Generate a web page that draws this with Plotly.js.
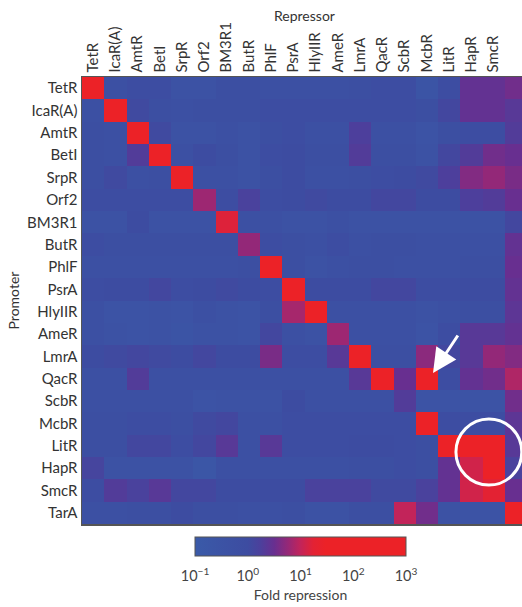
<!DOCTYPE html>
<html>
<head>
<meta charset="utf-8">
<script src="https://cdn.plot.ly/plotly-3.0.1.min.js"></script>
<style>html,body{margin:0;padding:0;background:#fff;}#chart{width:522px;height:607px;}</style>
</head>
<body>
<div id="chart"></div>
<script>
// Repressors (columns) and promoters (rows)
const repressors = ["TetR","IcaR(A)","AmtR","BetI","SrpR","Orf2","BM3R1","ButR","PhlF","PsrA","HlyIIR","AmeR","LmrA","QacR","ScbR","McbR","LitR","HapR","SmcR","TarA"];
const promoters  = ["TetR","IcaR(A)","AmtR","BetI","SrpR","Orf2","BM3R1","ButR","PhlF","PsrA","HlyIIR","AmeR","LmrA","QacR","ScbR","McbR","LitR","HapR","SmcR","TarA"];

// log10(fold repression), rows = promoters, columns = repressors
const log10Fold = [
  [ 2.5,-0.3,-0.1,-0.1,-0.4,-0.4,-0.2,-0.2,-0.3,-0.3,-0.3,-0.3,-0.2,-0.1,-0.1,-0.6,-0.1, 0.45,0.45,0.55],
  [-0.3, 2.5, 0.05,-0.2,-0.3,-0.2,-0.2,-0.2,-0.1,-0.1,-0.1,-0.1,-0.1,-0.1,-0.1,-0.2, 0.1, 0.45,0.45,0.35],
  [-0.2,-0.3, 2.5, 0.05,-0.4,-0.4,-0.3,-0.4,-0.2,-0.1,-0.3,-0.3, 0.25,-0.3,-0.3,-0.5,-0.2,-0.1,-0.1, 0.3],
  [-0.2,-0.3, 0.3, 2.5,-0.3, 0.0,-0.2,-0.4,-0.1, 0.0,-0.2,-0.2, 0.3,-0.2,-0.2,-0.4, 0.1, 0.3, 0.55, 0.5],
  [-0.2, 0.05,-0.3,-0.2, 2.5,-0.3,-0.3,-0.4,-0.2, 0.0,-0.3,-0.3,-0.2,-0.1, 0.0, 0.05, 0.25,0.65,0.75,0.6],
  [-0.1,-0.1,-0.1,-0.1,-0.1, 0.8,-0.1, 0.2,-0.1, 0.0, 0.05, 0.0, 0.0, 0.1, 0.1, 0.0, 0.0, 0.25,0.3, 0.5],
  [-0.4,-0.4, 0.0,-0.4,-0.4,-0.4, 1.2,-0.3,-0.3,-0.4,-0.4,-0.3,-0.4,-0.4,-0.4,-0.4,-0.4,-0.4,-0.4, 0.1],
  [-0.1,-0.2,-0.2,-0.2,-0.2,-0.2,-0.2, 0.75,-0.1,-0.2,-0.3,-0.1,-0.3,-0.2,-0.2,-0.3,-0.3,-0.3,-0.3, 0.45],
  [-0.3,-0.3,-0.3,-0.3,-0.3,-0.3,-0.3,-0.2, 2.5,-0.2,-0.4,-0.3,-0.2,-0.2,-0.3,-0.3,-0.3,-0.2,-0.2, 0.5],
  [-0.1, 0.0, 0.0, 0.1,-0.1, 0.0, 0.05, 0.0,-0.1, 2.5, 0.0, 0.0, 0.0, 0.1, 0.1,-0.1,-0.1, 0.0, 0.0, 0.45],
  [-0.3,-0.5,-0.5,-0.4,-0.5,-0.3,-0.4,-0.5,-0.2, 0.85, 2.5,-0.3,-0.3,-0.3,-0.3,-0.4,-0.3,-0.2,-0.2, 0.4],
  [-0.3,-0.4,-0.5,-0.4,-0.6,-0.4,-0.4,-0.5, 0.1,-0.3,-0.4, 0.8,-0.3,-0.3,-0.3,-0.5,-0.1, 0.35,0.35,0.45],
  [ 0.0, 0.05, 0.1, 0.05, 0.0, 0.1, 0.0, 0.0, 0.6,-0.1,-0.1, 0.35, 2.5,-0.2,-0.2, 0.7, 0.1, 0.35,0.75,0.65],
  [-0.3,-0.3, 0.3,-0.3,-0.3,-0.3,-0.3,-0.3,-0.3,-0.3,-0.3,-0.3, 0.35, 2.5, 0.5, 2.5,-0.1, 0.45,0.55,0.9],
  [-0.3,-0.3,-0.3,-0.3,-0.3,-0.5,-0.4,-0.4,-0.4, 0.0,-0.3,-0.3,-0.3,-0.3, 0.3,-0.5,-0.5,-0.5,-0.5, 0.55],
  [-0.2,-0.2,-0.1,-0.1,-0.2, 0.05, 0.1,-0.3,-0.3,-0.1,-0.1,-0.1,-0.1,-0.1,-0.1, 2.5,-0.1,-0.1,-0.1, 0.4],
  [-0.2,-0.2, 0.1, 0.1,-0.1, 0.1, 0.35,-0.3, 0.35,-0.1,-0.1,-0.1, 0.0, 0.0,-0.1,-0.2, 2.5, 2.5, 2.5, 0.35],
  [ 0.15,-0.4,-0.4,-0.4,-0.4,-0.7,-0.3,-0.3,-0.3,-0.3,-0.3,-0.3,-0.2,-0.2,-0.1,-0.2, 0.45, 1.1, 1.8, 0.2],
  [-0.1, 0.3, 0.2, 0.35, 0.1, 0.1, 0.0, 0.0, 0.0, 0.0, 0.2, 0.2, 0.2, 0.05, 0.05, 0.2, 0.45, 1.1, 1.25,0.5],
  [-0.3,-0.3,-0.2,-0.2, 0.0,-0.2,-0.2,-0.3,-0.3,-0.2,-0.4,-0.4,-0.2,-0.2, 1.0, 0.55,-0.4,-0.5,-0.5, 2.5]
];

// Colorbar ticks (log10 units) and labels
const cbTickVals = [-1, 0, 1, 2, 3];
const cbTickText = ["10<sup>\u22121</sup>", "10<sup>0</sup>", "10<sup>1</sup>", "10<sup>2</sup>", "10<sup>3</sup>"];

const colIdx = repressors.map((_, i) => i);
const rowIdx = promoters.map((_, i) => i);

const FONT = "Lato, 'Open Sans', sans-serif";

const colorscale = [
  [0.0,   "#3a5aa8"],
  [0.25,  "#3d4ca1"],
  [0.31,  "#4c409c"],
  [0.375, "#682f90"],
  [0.44,  "#952877"],
  [0.5,   "#c2245a"],
  [0.56,  "#e32234"],
  [0.62,  "#ec2227"],
  [1.0,   "#ec2227"]
];

const trace = {
  type: "heatmap",
  x: colIdx,
  y: rowIdx,
  z: log10Fold,
  zmin: -1,
  zmax: 3,
  colorscale: colorscale,
  hoverinfo: "skip",
  colorbar: {
    orientation: "h",
    x: 0.4966, xanchor: "center",
    y: -0.029, yanchor: "top",
    len: 0.4795, lenmode: "fraction",
    thickness: 19, thicknessmode: "pixels",
    xpad: 0, ypad: 0,
    outlinecolor: "#555", outlinewidth: 1,
    tickvals: cbTickVals, ticktext: cbTickText,
    ticks: "outside", ticklen: 8, tickcolor: "rgba(0,0,0,0)",
    tickfont: {family: FONT, size: 14.5, color: "#444"},
    title: {text: "Fold repression", side: "bottom", font: {family: FONT, size: 14, color: "#444"}}
  }
};

const layout = {
  width: 522, height: 607,
  margin: {l: 82, r: 0, t: 77, b: 83, pad: 0},
  paper_bgcolor: "#fff", plot_bgcolor: "#fff",
  font: {family: FONT, color: "#333"},
  showlegend: false,
  xaxis: {
    side: "top",
    range: [-0.5, 19.28],
    tickvals: colIdx, ticktext: repressors,
    tickangle: -90,
    tickfont: {family: FONT, size: 15, color: "#333"},
    ticks: "", ticklen: 0,
    showgrid: false, zeroline: false,
    showline: true, linecolor: "#555", linewidth: 1.5, mirror: true,
    automargin: false
  },
  yaxis: {
    range: [19.5, -0.5],
    tickvals: rowIdx, ticktext: promoters,
    tickfont: {family: FONT, size: 15, color: "#333"},
    ticks: "", ticklen: 0,
    showgrid: false, zeroline: false,
    showline: true, linecolor: "#555", linewidth: 1.5, mirror: true,
    automargin: false,
    title: {text: "Promoter", font: {family: FONT, size: 14, color: "#333"}, standoff: 4}
  },
  shapes: [
    {type: "circle", xref: "x", yref: "y", x0: 16.31, x1: 19.27, y0: 14.80, y1: 17.76,
     line: {color: "#fff", width: 3}}
  ],
  annotations: [
    {xref: "paper", yref: "paper", x: 0.5057, y: 1.1387, xanchor: "center", yanchor: "middle",
     text: "Repressor", showarrow: false, font: {family: FONT, size: 14, color: "#333"}},
    {xref: "x", yref: "y", axref: "x", ayref: "y", x: 15.28, y: 12.74, ax: 16.44, ay: 11.0,
     text: "", showarrow: true, arrowhead: 2, arrowsize: 1.6, arrowwidth: 3, arrowcolor: "#fff", standoff: 0}
  ]
};

Plotly.newPlot("chart", [trace], layout, {displayModeBar: false, staticPlot: true});
</script>
</body>
</html>
